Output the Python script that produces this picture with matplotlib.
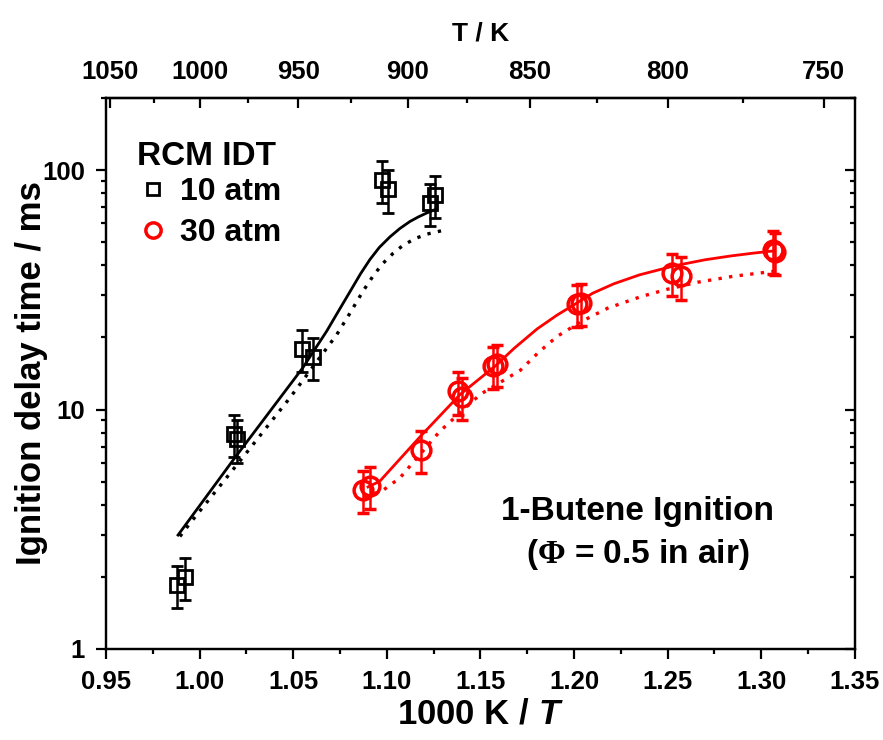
import numpy as np
import matplotlib
matplotlib.use("Agg")
import matplotlib.pyplot as plt
from matplotlib.ticker import FixedLocator, LogLocator, NullFormatter
from matplotlib.lines import Line2D

plt.rcParams['font.family'] = ['Liberation Sans', 'DejaVu Sans']
plt.rcParams['font.weight'] = 'bold'
plt.rcParams['mathtext.fontset'] = 'custom'
plt.rcParams['mathtext.it'] = 'Liberation Sans:italic:bold'
plt.rcParams['mathtext.rm'] = 'Liberation Serif'
plt.rcParams['mathtext.bf'] = 'Liberation Sans:bold'

# ---------------- data ----------------
# 10 atm RCM IDT (black squares)
x10 = np.array([0.9878, 0.9922, 1.0184, 1.0200, 1.0545, 1.0606, 1.0975, 1.1005, 1.1230, 1.1257])
y10 = np.array([1.85, 2.0, 7.9, 7.5, 17.9, 16.6, 91.0, 83.0, 73.0, 79.0])
# 30 atm RCM IDT (red circles)
x30 = np.array([1.0874, 1.0911, 1.1183, 1.1378, 1.1401, 1.1570, 1.1588, 1.2017, 1.2035,
                1.2526, 1.2570, 1.3065, 1.3075])
y30 = np.array([4.6, 4.8, 6.8, 11.9, 11.3, 15.2, 15.5, 27.6, 27.8, 37.2, 36.0, 46.2, 45.5])
rel_err = 0.20

# model curves
x10_sol = [0.9885, 1.0178, 1.0552, 1.0680, 1.0740, 1.0803, 1.0860, 1.0910, 1.0960, 1.1017,
           1.1070, 1.1124, 1.1170, 1.1214, 1.1257]
y10_sol = [2.99, 6.13, 14.96, 21.3, 25.6, 31.0, 36.9, 42.3, 47.5, 52.6,
           57.0, 61.0, 63.8, 66.2, 68.3]
x10_dot = [0.9895, 0.9949, 1.0251, 1.0483, 1.0732, 1.0800, 1.0873, 1.0930, 1.0980, 1.1035,
           1.1086, 1.1150, 1.1214, 1.1293]
y10_dot = [2.95, 3.35, 6.6, 11.2, 20.5, 25.0, 31.2, 36.4, 40.8, 45.0,
           48.4, 51.7, 54.0, 55.8]
x30_sol = [1.0900, 1.0963, 1.1181, 1.1392, 1.1580, 1.1680, 1.1803, 1.1910, 1.2017, 1.2100,
           1.2213, 1.2350, 1.2535, 1.2700, 1.2839, 1.2960, 1.3071]
y30_sol = [4.75, 5.02, 7.74, 11.56, 15.2, 18.0, 21.7, 24.8, 27.9, 30.6,
           33.5, 36.5, 39.8, 42.2, 43.8, 45.0, 46.0]
x30_dot = [1.0880, 1.0980, 1.1070, 1.1284, 1.1499, 1.1714, 1.1810, 1.1910, 1.2035, 1.2180,
           1.2357, 1.2500, 1.2660, 1.2850, 1.3107]
y30_dot = [4.3, 4.6, 5.18, 8.12, 11.56, 14.6, 17.3, 20.2, 23.2, 26.5,
           29.6, 31.8, 34.0, 36.0, 38.1]

xticks = [0.95, 1.00, 1.05, 1.10, 1.15, 1.20, 1.25, 1.30, 1.35]
xticklabels = ['0.95', '1.00', '1.05', '1.10', '1.15', '1.20', '1.25', '1.30', '1.35']
xminor = [0.975, 1.025, 1.075, 1.125, 1.175, 1.225, 1.275, 1.325]
yticks = [1, 10, 100]
yticklabels = ['1', '10', '100']
T_major = [1050, 1000, 950, 900, 850, 800, 750]
T_minor = [1025, 975, 925, 875, 825, 775]
legend_labels = ['10 atm', '30 atm']

# ---------------- figure ----------------
fig = plt.figure(figsize=(8.83, 7.40), dpi=100)
ax = fig.add_axes([0.120, 0.123, 0.848, 0.7446])

RED = '#FF0000'
ax.plot(x10_sol, y10_sol, '-', color='k', lw=2.0)
ax.plot(x10_dot, y10_dot, linestyle=(0, (1.0, 2.2)), color='k', lw=2.4)
ax.plot(x30_sol, y30_sol, '-', color=RED, lw=2.0)
ax.plot(x30_dot, y30_dot, linestyle=(0, (1.0, 2.2)), color=RED, lw=2.4)

ax.errorbar(x10, y10, yerr=rel_err * y10, fmt='s', mfc='none', mec='k', mew=2.0, ms=10.5,
            ecolor='k', elinewidth=1.8, capsize=4.5, capthick=1.8)
ax.errorbar(x30, y30, yerr=rel_err * y30, fmt='o', mfc='none', mec=RED, mew=2.5, ms=13.5,
            ecolor=RED, elinewidth=1.8, capsize=4.5, capthick=1.8)

ax.set_yscale('log')
ax.set_xlim(0.95, 1.35)
ax.set_ylim(1, 200)
ax.set_xticks(xticks)
ax.set_xticklabels(xticklabels)
ax.xaxis.set_minor_locator(FixedLocator(xminor))
ax.set_yticks(yticks)
ax.set_yticklabels(yticklabels)
ax.yaxis.set_minor_locator(LogLocator(base=10, subs=np.arange(2, 10)))
ax.yaxis.set_minor_formatter(NullFormatter())

for s in ax.spines.values():
    s.set_linewidth(1.6)
ax.tick_params(which='major', direction='out', length=7, width=1.6, labelsize=18.5)
ax.tick_params(which='minor', direction='out', length=3.5, width=1.6)
ax.tick_params(axis='x', which='major', pad=8)
ax.tick_params(axis='y', which='major', pad=8)
ax.tick_params(top=False, right=False, which='both')

ax.set_xlabel('1000 K / $\\mathit{T}$', fontsize=25, fontweight='bold', labelpad=3)
ax.set_ylabel('Ignition delay time / ms', fontsize=25, fontweight='bold')
ax.yaxis.set_label_coords(-0.078, 0.5)

# right axis (inward ticks, no labels)
ax2 = ax.twinx()
ax2.set_yscale('log')
ax2.set_ylim(1, 200)
ax2.yaxis.set_major_locator(FixedLocator(yticks))
ax2.yaxis.set_minor_locator(LogLocator(base=10, subs=np.arange(2, 10)))
ax2.tick_params(which='major', direction='in', length=7, width=1.6, labelright=False)
ax2.tick_params(which='minor', direction='in', length=3.5, width=1.6, labelright=False)
for s in ax2.spines.values():
    s.set_linewidth(1.6)

# top axis: temperature
inv = lambda v: 1000.0 / np.asarray(v, dtype=float)
sec = ax.secondary_xaxis('top', functions=(inv, inv))
sec.set_xticks(T_major)
sec.set_xticklabels([str(t) for t in T_major])
sec.xaxis.set_minor_locator(FixedLocator(T_minor))
sec.tick_params(which='major', direction='in', length=7, width=1.6, labelsize=18.5, pad=10)
sec.tick_params(which='minor', direction='in', length=3.5, width=1.6)
sec.set_xlabel('T / K', fontsize=19, fontweight='bold', labelpad=14)
for s in sec.spines.values():
    s.set_linewidth(1.6)

# legend
ax.text(0.0414, 0.893, 'RCM IDT', transform=ax.transAxes, fontsize=24,
        fontweight='bold', ha='left', va='center')
handles = [Line2D([], [], ls='none', marker='s', ms=9, mfc='none', mec='k', mew=2.0),
           Line2D([], [], ls='none', marker='o', ms=11, mfc='none', mec=RED, mew=2.5)]
leg = ax.legend(handles, legend_labels, loc='upper left',
                bbox_to_anchor=(0.048, 0.857), frameon=False, fontsize=23,
                handlelength=0.7, handletextpad=0.5, labelspacing=0.36,
                borderaxespad=0.0, borderpad=0.0)

ax.text(0.71, 0.25, '1-Butene Ignition', transform=ax.transAxes, fontsize=24,
        fontweight='bold', ha='center', va='center')
ax.text(0.71, 0.172, '($\\Phi$ = 0.5 in air)', transform=ax.transAxes, fontsize=24,
        fontweight='bold', ha='center', va='center')

fig.savefig('out.png', dpi=100)
